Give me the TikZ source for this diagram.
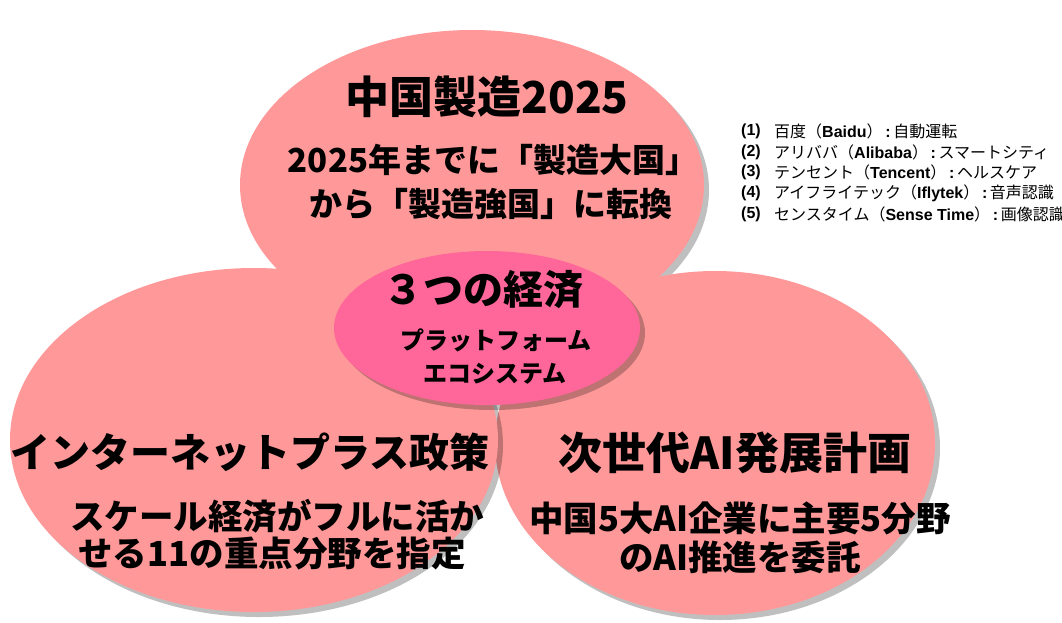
\documentclass[tikz,border=0pt]{standalone}
\usepackage{fontspec}
\setmainfont{Noto Sans CJK JP}
\newfontfamily\latinb{Liberation Sans}
\usetikzlibrary{shadows,shapes.geometric}
\definecolor{pinkA}{HTML}{FF9999}
\definecolor{pinkB}{HTML}{FF6699}
\tikzset{
  blob/.style={ellipse, draw=none, fill=pinkA, inner sep=0pt,
    drop shadow={shadow xshift=5pt, shadow yshift=-5pt, fill=black, opacity=0.25}},
  hub/.style={ellipse, draw=none, fill=pinkB, inner sep=0pt,
    drop shadow={shadow xshift=5pt, shadow yshift=-5pt, fill=black, opacity=0.25}},
  big/.style={inner sep=0pt, font=\fontsize{40pt}{44pt}\selectfont\bfseries},
  bigger/.style={inner sep=0pt, font=\fontsize{44pt}{48pt}\selectfont\bfseries},
  mid/.style={inner sep=0pt, font=\fontsize{33pt}{36pt}\selectfont\bfseries},
  midb/.style={inner sep=0pt, font=\fontsize{34.5pt}{37pt}\selectfont\bfseries},
  small/.style={inner sep=0pt, font=\fontsize{24pt}{26pt}\selectfont\bfseries},
  hubtitle/.style={inner sep=0pt, font=\fontsize{40pt}{44pt}\selectfont\bfseries},
  listnum/.style={inner sep=0pt, anchor=west, font=\fontsize{16pt}{18pt}\selectfont\latinb\bfseries},
  listtxt/.style={inner sep=0pt, anchor=west, font=\fontsize{16pt}{18pt}\selectfont},
}
\newcommand{\lb}[1]{{\latinb\bfseries #1}}
\begin{document}
\begin{tikzpicture}[x=1pt,y=-1pt]
\useasboundingbox (0,0) rectangle (1062,622);
\clip (0,0) rectangle (1062,622);
\fill[white] (0,0) rectangle (1062,622);
% ellipses
\node[blob, minimum width=464pt, minimum height=310pt] (top) at (472,185) {};
\node[blob, minimum width=440pt, minimum height=344pt] (right) at (715,443) {};
\node[blob, minimum width=488pt, minimum height=344pt] (left) at (254,440) {};
\node[hub, minimum width=306pt, minimum height=154pt] (hub) at (487,328) {};
% top texts
\node[bigger] (t1) at (487,97) {中国製造2025};
\node[mid] (t2) at (493,160) {2025年までに「製造大国」};
\node[mid] (t3) at (491,204) {から「製造強国」に転換};
% hub texts
\node[hubtitle] (h1) at (483,290) {３つの経済};
\node[small] (h2) at (496,340) {プラットフォーム};
\node[small] (h3) at (495,374) {エコシステム};
% left texts
\node[big] (l1) at (250,452) {インターネットプラス政策};
\node[midb] (l2) at (277,516) {スケール経済がフルに活か};
\node[midb] (l3) at (272,553) {せる11の重点分野を指定};
% right texts
\node[bigger] (r1) at (735,453) {次世代AI発展計画};
\node[midb] (r2) at (740,518) {中国5大AI企業に主要5分野};
\node[midb] (r3) at (740,557) {のAI推進を委託};
% list
\node[listnum] (n1) at (741,131) {(1)};
\node[listtxt] (s1) at (774,131) {百度（\lb{Baidu}）\lb{\,:\,}自動運転};
\node[listnum] (n2) at (741,152) {(2)};
\node[listtxt] (s2) at (774,152) {アリババ（\lb{Alibaba}）\lb{\,:\,}スマートシティ};
\node[listnum] (n3) at (741,172) {(3)};
\node[listtxt] (s3) at (774,172) {テンセント（\lb{Tencent}）\lb{\,:\,}ヘルスケア};
\node[listnum] (n4) at (741,193) {(4)};
\node[listtxt] (s4) at (774,193) {アイフライテック（\lb{Iflytek}）\lb{\,:\,}音声認識};
\node[listnum] (n5) at (741,214) {(5)};
\node[listtxt] (s5) at (774,214) {センスタイム（\lb{Sense Time}）\lb{\,:\,}画像認識};
\end{tikzpicture}
\end{document}
